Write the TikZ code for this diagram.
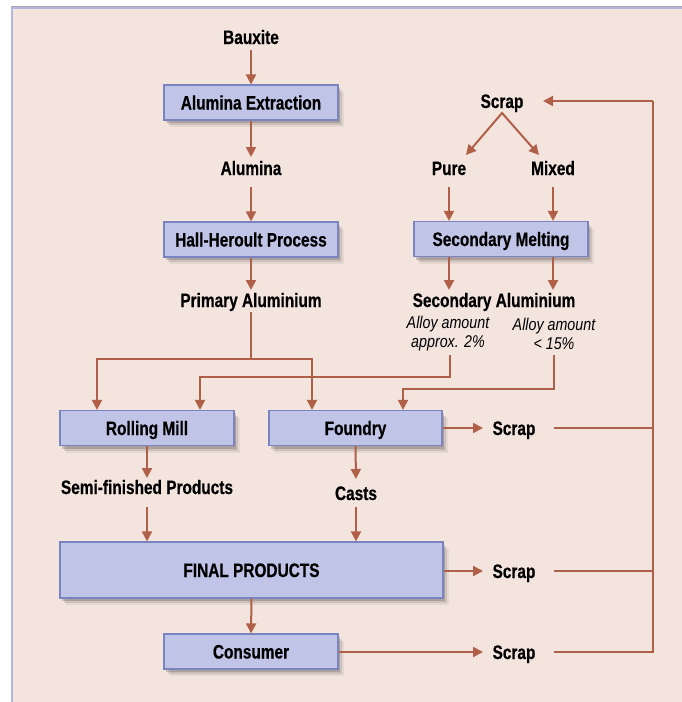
\documentclass[tikz,border=0pt]{standalone}
\usepackage{fontspec}
\setmainfont{Liberation Sans}
\newfontfamily\condfont{Liberation Sans}[FakeStretch=0.79,FakeBold=0.5]
\newfontfamily\condital{Liberation Sans}[FakeStretch=0.84]
\usetikzlibrary{arrows.meta,shadows,calc}
\definecolor{bgc}{RGB}{243,228,222}
\definecolor{boxfill}{RGB}{192,197,232}
\definecolor{boxline}{RGB}{122,132,192}
\definecolor{arrc}{RGB}{176,96,72}
\definecolor{framec}{RGB}{180,182,222}
\definecolor{framegray}{RGB}{165,165,178}
\begin{document}
\begin{tikzpicture}[x=1pt,y=-1pt,
  procbox/.style={draw=boxline, line width=1.2pt, fill=boxfill, minimum width=174pt, minimum height=35pt,
    inner sep=0pt, text height=14pt, text depth=0pt, font=\condfont\bfseries\fontsize{19.5}{22}\selectfont,
    drop shadow={shadow xshift=2pt,shadow yshift=-3pt,opacity=0.16,fill=black},
    drop shadow={shadow xshift=4pt,shadow yshift=-5pt,opacity=0.10,fill=black},
    drop shadow={shadow xshift=6pt,shadow yshift=-7pt,opacity=0.06,fill=black}},
  lbl/.style={inner sep=0pt, text height=14pt, text depth=0pt, font=\condfont\bfseries\fontsize{19.5}{22}\selectfont},
  note/.style={inner sep=0pt, align=center, font=\condital\itshape\fontsize{17}{19}\selectfont},
  arr/.style={draw=arrc, line width=2pt, -{Triangle[width=10pt,length=10pt]}},
  ln/.style={draw=arrc, line width=2pt}]
\useasboundingbox (0,0) rectangle (682,702);
\fill[white] (0,0) rectangle (682,702);
\fill[bgc] (11,7) rectangle (682,702);
\draw[framec, line width=2pt] (11.5,702) -- (11.5,8) -- (682,8);
\draw[framegray, line width=1pt] (11,6.5) -- (682,6.5);

% nodes
\node[lbl] (bauxite) at (251,37) {Bauxite};
\node[procbox] (ext) at (251,102.5) {Alumina Extraction};
\node[lbl] (alumina) at (251,168) {Alumina};
\node[procbox] (hall) at (251,239.5) {Hall-Heroult Process};
\node[lbl] (primary) at (251,300) {Primary Aluminium};
\node[lbl] (scrapin) at (502,101) {Scrap};
\node[lbl] (pure) at (449,168) {Pure};
\node[lbl] (mixed) at (553,168) {Mixed};
\node[procbox] (sec) at (501,239) {Secondary Melting};
\node[lbl] (secal) at (494,300) {Secondary Aluminium};
\node[note] (alloyA) at (448,334) {Alloy amount\\approx. 2\%};
\node[note] (alloyB) at (554,334) {Alloy amount\\< 15\%};
\node[procbox] (roll) at (147,428) {Rolling Mill};
\node[procbox, minimum width=173pt] (found) at (355.5,428) {Foundry};
\node[lbl] (scrapF) at (514,428) {Scrap};
\node[lbl] (semi) at (147,487) {Semi-finished Products};
\node[lbl] (casts) at (356,493) {Casts};
\node[procbox, minimum width=383pt, minimum height=56pt] (final) at (251.5,570) {FINAL PRODUCTS};
\node[lbl] (scrapP) at (514,571) {Scrap};
\node[procbox] (cons) at (251,651.5) {Consumer};
\node[lbl] (scrapC) at (514,652) {Scrap};
\coordinate (rx) at (653,101);
\coordinate (pj) at (251,359);

% main chain
\draw[arr] ($(bauxite)+(0,13)$) -- (ext.north);
\draw[arr] (ext.south) -- ($(alumina)+(0,-11)$);
\draw[arr] ($(alumina)+(0,19)$) -- (hall.north);
\draw[arr] (hall.south) -- ($(primary)+(0,-10)$);
\draw[ln] ($(primary)+(0,12)$) -- (pj);
\draw[arr] (pj) -| ($(roll.north)+(-50,0)$);
\draw[arr] (pj) -| ($(found.north)+(-43.5,0)$);

% scrap split
\draw[arr, {Triangle[width=10pt,length=10pt]}-{Triangle[width=10pt,length=10pt]}, line join=miter]
  ($(pure)+(17,-13)$) -- ($(scrapin)+(0,12)$) -- ($(mixed)+(-14,-13)$);
\draw[arr] ($(pure)+(0,19)$) -- (pure |- sec.north);
\draw[arr] ($(mixed)+(0,19)$) -- (mixed |- sec.north);
\draw[arr] (pure |- sec.south) -- ($(pure |- secal)+(0,-10)$);
\draw[arr] (mixed |- sec.south) -- ($(mixed |- secal)+(0,-10)$);

% secondary feeds
\draw[arr] ($(alloyA)+(2,21)$) |- ($(roll.north)+(53,-33)$) -- ($(roll.north)+(53,0)$);
\draw[arr] ($(alloyB)+(0,21)$) |- ($(found.north)+(47.5,-21)$) -- ($(found.north)+(47.5,0)$);

% downstream
\draw[arr] (roll.south) -- ($(semi)+(0,-9)$);
\draw[arr] ($(semi)+(0,20)$) -- (semi |- final.north);
\draw[arr] (found.south) -- ($(casts)+(0,-14)$);
\draw[arr] ($(casts)+(0,14)$) -- (casts |- final.north);
\draw[arr] (final.south) -- (cons.north);

% scrap outputs
\draw[arr] (found.east) -- ($(scrapF)+(-31,0)$);
\draw[arr] (final.east |- scrapP) -- ($(scrapP)+(-31,0)$);
\draw[arr] (cons.east |- scrapC) -- ($(scrapC)+(-31,0)$);
\draw[ln] ($(scrapF)+(40,0)$) -- (scrapF -| rx);
\draw[ln] ($(scrapP)+(40,0)$) -- (scrapP -| rx);
\draw[ln] ($(scrapC)+(40,0)$) -| (rx);
\draw[arr] (rx) -- ($(scrapin)+(41,0)$);
\end{tikzpicture}
\end{document}
